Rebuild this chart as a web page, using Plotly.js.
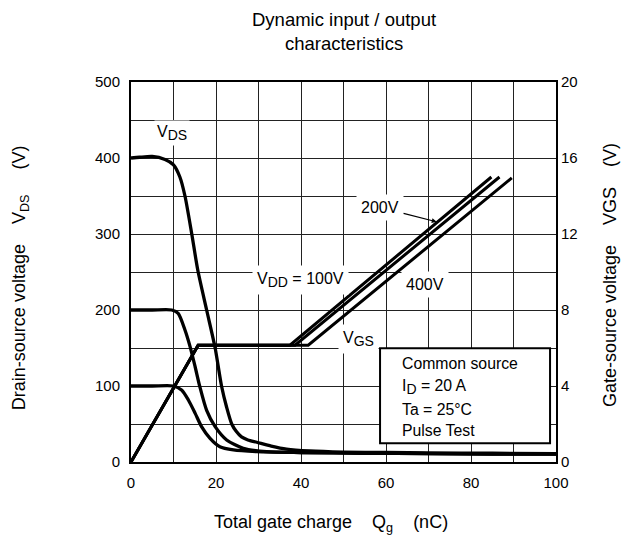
<!DOCTYPE html>
<html>
<head>
<meta charset="utf-8">
<script src="https://cdn.plot.ly/plotly-3.0.1.min.js"></script>
<style>html,body{margin:0;padding:0;background:#fff;}#chart{width:630px;height:537px;}</style>
</head>
<body>
<div id="chart"></div>
<script>
// Drain-source voltage curves (V) vs total gate charge (nC)
const qVds400 = [0,2,5,8,10,11.5,12.7,14.3,15.7,17.8,19.8,21.3,22.5,23.7,24.8,26,27.5,29.6,33,36.6,42,50,60,70,85,100];
const vVds400 = [400,401,402,398,391,375,350,300,253,200,150,100,72,50,40,33,29,26,21,17,14.5,13,12.5,12,11.5,11];
const qVds200 = [0,5,9.6,11.1,12.7,13.9,15.1,16.2,17.8,19.8,22.5,26.4,31.9,40,55,70,85,100];
const vVds200 = [200,200,200,195.6,173.7,151.8,125,99,68,46.5,29,18,13.6,12.5,11.5,11,10.5,10.5];
const qVds100 = [0,5,10,11.9,13.5,15.1,16.6,18.6,20.9,24.1,29.6,40,55,70,85,100];
const vVds100 = [100,100,100,94.7,81.6,64,46.5,31,20,15.8,13.6,12.5,11.5,11,10.5,10.5];
// Gate-source voltage curves (V) vs total gate charge (nC)
const qVgs100 = [0,15.8,37.4,84.8];
const vVgs100 = [0,6.15,6.15,15.0];
const qVgs200 = [0,15.8,38.6,86.7];
const vVgs200 = [0,6.15,6.15,15.0];
const qVgs400 = [0,15.8,41.7,89.6];
const vVgs400 = [0,6.15,6.15,14.95];
// Tick labels
const xTickVals = [0,20,40,60,80,100];
const yTickVals = [0,100,200,300,400,500];
const y2TickVals = [0,4,8,12,16,20];

const FONT = 'Liberation Sans, Arial, sans-serif';
const GRID = '#222';
const vdsLine = {color:'#000', width:3.3, shape:'spline', smoothing:0.7};
const vgsLine = {color:'#000', width:3};

const traces = [
  {x:qVds400, y:vVds400, mode:'lines', line:vdsLine, yaxis:'y'},
  {x:qVds200, y:vVds200, mode:'lines', line:vdsLine, yaxis:'y'},
  {x:qVds100, y:vVds100, mode:'lines', line:vdsLine, yaxis:'y'},
  {x:qVgs100, y:vVgs100, mode:'lines', line:vgsLine, yaxis:'y2'},
  {x:qVgs200, y:vVgs200, mode:'lines', line:vgsLine, yaxis:'y2'},
  {x:qVgs400, y:vVgs400, mode:'lines', line:vgsLine, yaxis:'y2'}
];

const sub = s => '<sub><span style="font-size:14px">' + s + '</span></sub>';

const lbl = (text, x, y, extra) => Object.assign({
  text, x, y, xref:'x', yref:'y', showarrow:false,
  bgcolor:'#fff', borderpad:4, font:{family:FONT, size:16, color:'#000'}
}, extra || {});

const boxText = (text, y) => ({
  text, x:63.3, y, xref:'x', yref:'y', xanchor:'left', yanchor:'middle',
  showarrow:false, font:{family:FONT, size:15.8, color:'#000'}
});

const layout = {
  width:630, height:537,
  margin:{l:131, r:74, t:82, b:75},
  paper_bgcolor:'#fff', plot_bgcolor:'#fff',
  showlegend:false,
  font:{family:FONT, color:'#000'},
  xaxis:{range:[0,100], tickvals:xTickVals, showgrid:true,
         gridcolor:GRID, gridwidth:1, zeroline:false, showline:true, linecolor:'#000',
         linewidth:2, mirror:true, ticks:'', ticklabelstandoff:6,
         minor:{dtick:10, showgrid:true, gridcolor:GRID, gridwidth:1, ticks:''},
         tickfont:{family:FONT, size:15, color:'#000'}},
  yaxis:{range:[0,500], tickvals:yTickVals, showgrid:true,
         gridcolor:GRID, gridwidth:1, zeroline:false, showline:true, linecolor:'#000',
         linewidth:2, mirror:true, ticks:'', ticklabelstandoff:6,
         minor:{dtick:50, showgrid:true, gridcolor:GRID, gridwidth:1, ticks:''},
         tickfont:{family:FONT, size:15, color:'#000'}},
  yaxis2:{range:[0,20], tickvals:y2TickVals, overlaying:'y', side:'right', showgrid:false,
          zeroline:false, showline:false, ticks:'', ticklabelstandoff:4,
          tickfont:{family:FONT, size:15, color:'#000'}},
  shapes:[
    {type:'rect', xref:'x', yref:'y', x0:58.6, x1:98.6, y0:24.6, y1:149.6,
     line:{color:'#000', width:2}, fillcolor:'#fff', layer:'above'}
  ],
  annotations:[
    {text:'Dynamic input / output<br>characteristics', xref:'paper', yref:'paper',
     x:0.5, y:1.197, xanchor:'center', yanchor:'top', showarrow:false,
     font:{family:FONT, size:18.5, color:'#000'}},
    lbl('V' + sub('DS'), 9.6, 433, {borderpad:2}),
    lbl('V' + sub('DD') + ' = 100V', 39.8, 239.5),
    lbl('200V', 58.6, 335, {showarrow:true, ax:58.6, ay:335, axref:'x', ayref:'y',
        arrowhead:2, arrowsize:0.8, arrowwidth:1.2, arrowcolor:'#000', standoff:0}),
    lbl('400V', 69.2, 234),
    lbl('V' + sub('GS'), 53.6, 161.8),
    boxText('Common source', 129),
    boxText('I' + sub('D') + ' = 20 A', 99),
    boxText('Ta = 25°C', 68.5),
    boxText('Pulse Test', 42),
    {text:'Total gate charge&nbsp;&nbsp;&nbsp;&nbsp;Q<sub>g</sub>&nbsp;&nbsp;&nbsp;&nbsp;(nC)', xref:'paper', yref:'paper',
     x:0.47, y:-0.163, xanchor:'center', yanchor:'middle', showarrow:false,
     font:{family:FONT, size:18, color:'#000'}},
    {text:'Drain-source voltage&nbsp;&nbsp;&nbsp;&nbsp;V<sub>DS</sub>&nbsp;&nbsp;&nbsp;&nbsp;&nbsp;(V)', xref:'paper', yref:'paper',
     x:-0.261, y:0.484, xanchor:'center', yanchor:'middle', textangle:-90, showarrow:false,
     font:{family:FONT, size:18, color:'#000'}},
    {text:'Gate-source voltage&nbsp;&nbsp;&nbsp;&nbsp;VGS&nbsp;&nbsp;&nbsp;&nbsp;(V)', xref:'paper', yref:'paper',
     x:1.127, y:0.492, xanchor:'center', yanchor:'middle', textangle:-90, showarrow:false,
     font:{family:FONT, size:18, color:'#000'}}
  ]
};

// the 200V arrow points to the 100V/200V VGS pair
layout.annotations[3].x = 71.9; layout.annotations[3].y = 316;

Plotly.newPlot('chart', traces, layout, {staticPlot:true, displayModeBar:false});
</script>
</body>
</html>
